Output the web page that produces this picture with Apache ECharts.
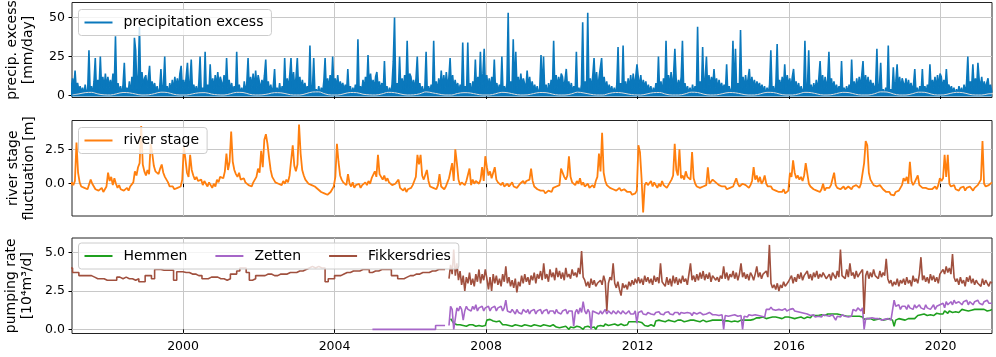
<!DOCTYPE html>
<html>
<head>
<meta charset="utf-8">
<script src="https://cdn.jsdelivr.net/npm/echarts@6.0.0/dist/echarts.min.js"></script>
<style>
  html, body { margin: 0; padding: 0; background: #ffffff; }
  #chart { width: 996px; height: 357px; }
</style>
</head>
<body>
<div id="chart"></div>
<script>
// tick labels
const xTickYears = [2000, 2004, 2008, 2012, 2016, 2020];
const precipTicks = [0, 25, 50];
const riverTicks = [0, 2.5];
const pumpTicks = [0, 2.5, 5];

// precipitation excess [mm/day], one row per year (1997..2021), 30 samples per year
const PRECIP_START = 1997;
const PRECIP_PER_YEAR = 30;
const precipRows = [
  [9,4,11,5,16,3,8,3,6,2,5,0,7,1,4,29,1,6,0,9,24,2,10,4,25,5,12,4,14,5],
  [12,5,10,4,14,5,38,3,8,2,6,0,7,21,1,5,1,9,0,12,3,37,29,4,13,44,5,15,6,11],
  [13,5,11,19,4,9,4,8,2,6,0,5,17,1,7,25,1,6,0,8,2,10,3,12,5,11,4,14,19,5],
  [10,4,12,21,5,9,23,3,7,2,6,0,8,25,1,5,1,28,0,7,2,20,3,11,4,13,5,15,6,12],
  [11,5,13,4,24,5,10,3,8,2,6,0,28,1,7,1,5,0,9,1,8,24,3,12,5,14,4,16,5,13],
  [12,4,10,5,13,23,4,9,2,7,1,6,17,0,5,1,8,1,6,0,24,2,11,4,13,24,5,15,4,12],
  [24,5,12,4,10,4,8,3,6,2,32,0,5,24,1,4,1,6,0,5,1,9,24,3,11,4,13,5,25,5],
  [11,5,13,4,9,5,8,3,7,2,17,1,6,0,5,1,7,0,36,1,6,2,10,4,12,5,26,4,14,5],
  [10,4,12,15,5,9,3,8,2,22,1,6,0,5,1,7,22,50,0,8,2,25,3,11,4,13,5,35,5,14],
  [12,5,10,4,11,25,4,8,2,6,1,5,28,0,6,1,7,1,35,0,9,2,11,4,16,4,13,5,15,6],
  [11,24,5,13,4,10,4,8,2,7,1,34,0,6,1,34,1,8,0,9,2,23,3,12,5,28,4,14,30,5],
  [13,5,11,4,12,5,23,3,8,2,7,1,25,0,6,1,8,53,1,9,2,36,3,28,5,12,4,14,6,11],
  [10,4,16,5,12,4,9,3,7,2,6,0,5,26,1,25,1,7,0,8,2,10,3,35,4,13,5,12,6,14],
  [12,4,10,17,5,9,3,8,2,6,1,28,0,5,1,7,47,0,9,1,53,2,11,4,13,24,5,15,4,12],
  [11,24,5,12,4,9,3,7,2,6,1,5,0,7,31,1,8,1,32,0,9,2,11,4,13,4,14,5,12,20],
  [12,5,13,4,10,5,9,3,7,2,6,0,5,1,8,1,25,0,9,1,11,2,35,4,13,5,15,4,14,30],
  [11,4,10,5,12,35,4,8,2,6,1,5,0,7,1,6,0,44,1,9,2,31,3,11,25,4,13,5,12,6],
  [17,5,11,4,10,4,8,3,7,2,20,0,6,1,5,35,0,30,1,8,2,42,3,12,4,13,5,11,17,4],
  [12,5,10,4,9,5,8,3,7,2,6,0,5,1,7,29,1,6,0,8,33,2,10,4,12,4,20,5,13,6],
  [11,4,12,17,5,9,3,8,2,6,1,5,35,0,6,29,0,7,1,8,2,10,3,11,22,5,13,4,12,5],
  [10,28,5,11,4,9,3,7,2,6,1,22,0,5,1,6,1,7,0,23,2,9,3,11,4,12,5,13,22,4],
  [13,5,12,4,10,5,8,3,7,30,1,6,21,0,4,0,5,1,32,0,4,1,18,3,9,20,4,12,4,11],
  [12,5,11,4,10,4,8,3,7,17,1,5,0,6,1,17,0,6,1,7,2,20,3,10,5,12,4,13,5,14],
  [12,4,10,5,17,4,7,3,6,2,5,0,4,1,6,1,5,0,7,1,8,25,3,9,5,20,4,11,5,21],
  [10,5,12,4,9,4,8,11,3,7,2]
];

// light lower trace inside the precipitation band, 6 samples per year
const precipLowRows = [
  [0.4,1.0,1.8,2.0,1.0,0.4],[0.3,1.1,1.9,1.7,0.9,0.3],[0.4,1.2,2.1,1.9,0.8,0.3],
  [0.3,1.0,1.7,1.8,0.9,0.4],[0.3,1.1,2.0,1.9,0.8,0.3],[0.4,1.0,1.8,1.7,0.9,0.3],
  [0.3,1.2,2.2,2.3,1.0,0.3],[0.3,1.1,1.9,1.8,0.8,0.4],[0.3,1.0,2.0,1.8,0.9,0.3],
  [0.4,1.1,2.3,1.7,0.9,0.3],[0.3,1.3,1.8,1.6,0.8,0.3],[0.3,1.1,2.0,1.7,0.8,0.3],
  [0.4,1.2,1.9,1.8,0.9,0.3],[0.3,1.0,2.1,1.6,0.8,0.3],[0.3,1.3,1.9,1.7,0.9,0.4],
  [0.3,1.0,1.8,1.9,0.8,0.3],[0.3,1.0,2.1,1.9,0.8,0.3],[0.4,1.2,1.9,1.7,0.9,0.3],
  [0.3,1.1,2.0,1.9,0.9,0.3],[0.3,1.0,2.0,1.8,0.9,0.3],[0.4,1.2,2.0,1.8,0.8,0.3],
  [0.3,1.1,2.3,2.2,1.0,0.3],[0.3,1.1,2.1,2.0,0.9,0.3],[0.4,1.3,2.0,1.8,0.8,0.3],
  [0.3,1.0,1.2]
];

// river stage fluctuation [m], 24 samples per year from 1997
const RIVER_START = 1997;
const RIVER_PER_YEAR = 24;
const riverRows = [
  [-0.2,0.1,-0.1,0.2,3.0,0.8,0.1,-0.2,-0.1,-0.3,-0.2,-0.4,-0.5,0.3,0.0,-0.2,-0.4,-0.3,-0.5,-0.4,-0.3,-0.6,-0.4,-0.2],
  [0.8,0.2,0.5,-0.1,0.4,0.0,-0.3,-0.1,-0.4,-0.3,-0.5,-0.4,-0.3,-0.5,-0.2,-0.3,0.1,0.9,0.6,1.2,1.5,4.2,1.4,0.9],
  [0.6,1.0,0.7,2.9,2.2,1.3,0.9,1.0,0.7,1.1,1.4,0.8,0.5,0.3,0.1,-0.2,-0.3,-0.2,-0.4,-0.5,-0.3,-0.4,-0.2,0.3],
  [2.7,1.8,0.8,0.5,2.1,1.0,0.6,0.3,0.5,0.2,0.1,0.3,-0.1,0.2,0.0,-0.2,0.1,-0.1,-0.3,0.0,-0.2,0.3,0.1,0.5],
  [0.6,0.4,0.9,2.2,1.0,1.6,3.8,1.6,1.0,0.7,0.5,0.8,0.3,0.2,0.4,0.1,0.0,-0.1,0.0,-0.2,0.1,0.0,0.5,1.1],
  [0.8,2.4,1.2,3.2,3.6,2.9,1.9,1.0,0.5,0.3,0.1,0.2,0.0,0.1,-0.1,0.2,0.0,0.3,0.1,0.6,0.5,2.8,1.3,0.9],
  [1.4,4.3,2.2,1.0,0.6,0.3,0.2,0.0,0.1,-0.1,0.0,-0.2,-0.3,-0.4,-0.5,-0.6,-0.5,-0.7,-0.6,-0.8,-0.7,-0.6,-0.4,-0.2],
  [0.5,2.9,1.6,0.6,0.3,0.1,0.2,-0.1,0.7,0.0,-0.2,0.1,-0.3,-0.1,-0.2,0.0,-0.3,-0.1,-0.2,0.1,-0.1,0.2,0.0,0.4],
  [0.3,0.9,0.5,2.1,0.7,0.5,0.3,0.6,0.2,0.4,0.1,0.0,-0.1,-0.2,0.0,-0.1,0.3,-0.3,-0.4,-0.5,-0.3,-0.6,-0.4,-0.5],
  [-0.3,-0.1,0.2,0.5,2.1,1.4,2.1,0.6,0.3,0.4,1.0,0.2,-0.2,-0.1,-0.3,-0.2,-0.4,-0.1,0.7,-0.2,-0.3,-0.4,-0.2,0.1],
  [0.4,0.3,1.5,0.2,2.5,1.5,0.3,-0.1,0.1,0.0,-0.1,0.2,0.1,1.1,-0.1,0.3,0.0,0.2,0.1,0.0,0.3,1.2,0.2,2.0],
  [1.2,0.6,0.9,0.4,0.5,1.2,0.3,0.1,0.0,-0.1,0.1,-0.2,-0.1,0.0,-0.2,-0.1,0.1,-0.2,-0.1,-0.3,-0.2,0.0,-0.1,0.2],
  [0.0,0.2,0.1,0.3,1.1,0.2,-0.2,-0.3,-0.4,-0.3,-0.5,-0.6,-0.5,-0.7,-0.6,-0.5,-0.4,-0.6,-0.3,-0.4,-0.2,-0.3,-0.1,1.1],
  [1.2,0.5,0.3,0.6,2.0,0.5,0.1,0.0,-0.1,0.2,0.0,0.4,-0.1,0.1,-0.2,-0.1,0.0,-0.3,-0.2,-0.1,-0.3,0.2,0.5,2.2],
  [0.9,3.7,0.8,0.2,-0.1,-0.2,-0.3,-0.2,-0.4,-0.3,-0.5,-0.4,-0.3,-0.5,-0.6,-0.4,-0.5,-0.6,-0.7,-0.6,-0.8,-0.9,-0.7,-0.5],
  [2.8,2.3,0.4,-2.1,-0.1,0.1,-0.1,0.0,0.2,-0.2,0.1,-0.1,-0.3,0.0,-0.2,0.2,-0.1,0.0,-0.3,-0.1,0.1,0.3,0.6,2.9],
  [1.0,0.6,2.5,0.4,0.6,0.3,0.9,0.5,0.6,0.3,2.3,0.4,0.0,-0.2,-0.1,-0.3,-0.4,-0.2,-0.3,-0.1,1.2,0.0,-0.1,0.3],
  [0.3,0.1,0.2,-0.1,0.0,-0.2,-0.3,-0.2,-0.4,-0.5,-0.3,-0.4,-0.2,-0.1,0.4,0.0,-0.2,-0.1,0.0,0.1,-0.1,-0.2,-0.3,-0.1],
  [0.2,1.2,0.3,0.6,0.1,0.5,0.0,0.2,0.6,0.0,-0.2,-0.3,-0.2,-0.4,-0.3,-0.5,-0.4,-0.6,-0.5,-0.6,-0.4,-0.7,-0.6,-0.5],
  [0.8,0.5,1.7,0.8,0.4,0.6,0.3,0.5,0.2,0.6,1.5,1.5,0.0,-0.2,-0.3,-0.4,-0.3,-0.5,-0.4,-0.6,-0.4,0.0,-0.5,-0.3],
  [-0.2,-0.3,-0.1,-0.2,0.8,-0.1,-0.3,-0.2,-0.4,-0.3,-0.2,-0.4,-0.3,-0.2,-0.3,-0.4,-0.2,-0.3,-0.1,-0.2,-0.3,0.0,-0.1,1.5],
  [3.1,2.8,0.8,0.3,0.1,-0.1,0.0,-0.2,-0.3,-0.1,-0.2,-0.4,-0.5,-0.6,-0.7,-0.6,-0.8,-0.7,-0.85,-0.6,-0.7,-0.5,-0.3,-0.1],
  [0.4,0.2,0.5,0.0,1.6,0.2,-0.1,0.1,0.0,0.6,-0.1,-0.2,-0.3,-0.4,-0.3,-0.2,-0.4,-0.3,-0.4,-0.3,-0.2,-0.4,-0.1,0.4],
  [0.2,0.4,2.1,0.5,2.1,0.0,-0.2,-0.3,-0.1,-0.4,-0.3,-0.5,-0.3,-0.4,-0.2,-0.5,-0.3,-0.4,-0.2,-0.3,-0.5,-0.3,-0.2,-0.1],
  [-0.1,0.3,3.1,0.0,-0.2,-0.3,-0.1,-0.2,0.1]
];

// pumping rate [10^4 m3/d]
// Fikkersdries monthly (stepped) 1997..2006
const FIK_EARLY_START = 1997;
const fikEarlyRows = [
  [4.0,3.7,3.7,3.5,3.5,3.5,3.5,3.4,3.3,3.3,3.3,3.2],
  [3.2,3.2,3.2,3.4,3.3,3.4,3.3,3.3,3.2,3.3,3.1,3.1],
  [3.5,3.5,3.3,3.9,3.9,3.85,3.85,3.85,3.85,3.2,3.75,3.75],
  [3.7,3.7,3.6,3.6,3.5,3.5,3.3,3.3,3.4,3.4,3.4,3.3],
  [3.3,3.2,3.3,3.6,3.6,3.8,4.0,4.0,3.7,3.2,3.3,3.5],
  [3.5,3.5,3.6,3.6,3.5,3.5,3.6,3.6,3.6,3.7,3.7,3.7],
  [3.8,3.8,3.9,4.0,4.1,4.0,4.1,4.0,4.0,3.1,3.3,3.3],
  [3.5,3.5,3.6,3.7,3.7,3.8,3.8,3.8,3.9,3.9,3.9,3.7],
  [3.8,3.8,3.9,3.9,3.9,3.9,3.5,3.5,3.3,3.3,3.4,3.5],
  [3.5,3.6,3.6,3.7,3.7,3.7,3.8,3.8,3.9,3.9,3.9,3.9]
];
// Zetten monthly (stepped) 2005..2006
const ZET_EARLY_START = 2005;
const zetEarlyRows = [
  [0,0,0,0,0,0,0,0,0,0,0,0],
  [0,0,0,0,0,0,0,0,0.25,0.25,0.25,0.25]
];
// 24 samples per year from 2007
const PUMP_START = 2007;
const PUMP_PER_YEAR = 24;
const hemmenRows = [
  [null,0.7,0.8,0.4,0.35,0.3,0.25,0.3,0.2,0.25,0.3,0.2,0.25,0.3,0.2,0.3,0.25,0.2,0.3,0.25,0.3,0.2,0.3,0.25],
  [0.6,0.55,0.65,0.6,0.55,0.6,0.5,0.6,0.55,0.6,0.3,0.25,0.3,0.2,0.25,0.3,0.2,0.25,0.3,0.2,0.25,0.3,0.2,0.25],
  [0.3,0.2,0.25,0.3,0.2,0.25,0.3,0.2,0.25,0.3,0.2,0.25,0.3,0.2,0.25,0.3,0.2,0.25,0.3,0.2,0.15,0.2,0.1,0.15],
  [0.15,0.1,0.2,0.15,0.0,0.15,0.2,0.1,0.15,0.2,0.1,0.15,0.2,0.0,0.15,0.1,0.2,0.15,0.1,0.2,0.15,0.0,0.2,0.15],
  [0.25,0.3,0.2,0.35,0.3,0.25,0.35,0.3,0.25,0.35,0.3,0.25,0.3,0.35,0.3,0.25,0.35,0.3,0.5,0.45,0.5,0.55,0.5,0.45],
  [0.5,0.55,0.45,0.5,0.25,0.3,0.2,0.25,0.3,0.25,0.2,0.55,0.5,0.6,0.5,0.55,0.6,0.5,0.55,0.6,0.5,0.55,0.6,0.5],
  [0.55,0.6,0.5,0.6,0.55,0.5,0.6,0.55,0.5,0.6,0.55,0.6,0.5,0.55,0.6,0.5,0.55,0.6,0.55,0.5,0.6,0.55,0.5,0.6],
  [0.55,0.6,0.5,0.6,0.55,0.6,0.5,0.55,0.6,0.55,0.6,0.5,0.6,0.55,0.6,0.5,0.55,0.6,0.55,0.6,0.5,0.6,0.55,0.6],
  [0.6,0.65,0.7,0.75,0.7,0.75,0.7,0.8,0.75,0.7,0.8,0.75,0.7,0.8,0.75,0.8,0.7,0.75,0.8,0.7,0.75,0.8,0.75,0.8],
  [0.8,0.75,0.8,0.7,0.8,0.75,0.7,0.8,0.75,0.7,0.75,0.8,0.7,0.75,0.9,0.85,0.9,0.95,0.9,1.0,0.95,1.0,0.9,0.95],
  [1.0,0.95,1.0,0.9,1.0,0.95,1.0,0.9,0.95,1.0,0.9,0.95,0.85,0.9,0.85,0.8,0.85,0.9,0.85,0.8,0.85,0.9,0.8,0.65],
  [0.65,0.7,0.6,0.7,0.65,0.6,0.7,0.65,0.6,0.7,0.65,0.6,0.7,0.65,0.6,0.7,0.65,0.6,0.2,0.6,0.65,0.7,0.6,0.65],
  [0.7,0.6,0.65,0.7,0.6,0.7,0.65,0.7,0.8,0.9,0.85,0.95,0.9,1.0,0.95,0.9,1.0,0.95,1.05,0.9,1.0,1.05,0.95,1.0],
  [1.1,1.0,1.2,1.1,1.05,1.2,1.15,1.1,1.2,1.15,1.25,1.1,1.2,1.3,1.2,1.25,1.3,1.2,1.3,1.25,1.2,1.3,1.25,1.3],
  [1.25,1.3,1.2,1.3,1.25,1.2,1.3,1.25,1.3]
];
const zettenRows = [
  [0.25,1.5,1.3,0.0,0.0,1.4,1.2,1.5,1.3,0.6,1.2,1.5,1.3,1.4,1.2,1.5,1.3,1.6,1.2,1.4,1.3,1.5,1.2,1.4],
  [1.3,1.5,1.2,1.4,1.3,1.5,1.2,1.4,1.3,1.5,1.2,1.4,1.9,1.2,1.3,1.1,1.3,1.2,1.0,1.3,1.1,1.2,1.0,1.3],
  [1.2,1.1,1.3,1.0,1.2,1.1,1.3,1.0,1.2,1.1,1.3,1.0,1.2,1.1,1.3,1.0,1.2,1.1,1.2,1.0,1.3,1.1,1.2,1.0],
  [1.2,1.1,1.3,1.0,1.2,1.1,1.2,0.2,1.1,1.3,1.0,1.4,1.1,1.8,1.2,1.0,1.3,1.1,0.0,1.2,1.3,1.1,1.2,1.0],
  [1.2,1.0,1.1,1.3,1.0,1.2,1.1,1.0,1.2,1.1,1.0,1.2,1.1,1.0,1.2,1.1,1.0,1.1,1.2,1.0,1.1,1.0,1.2,0.4],
  [1.1,1.0,1.2,1.0,1.1,0.95,1.1,1.2,1.0,1.1,0.95,1.1,1.0,1.15,1.0,1.1,0.95,1.1,1.0,1.15,1.0,1.1,0.95,1.1],
  [1.0,1.1,0.95,1.1,1.0,1.05,0.95,1.1,1.0,1.05,0.9,1.1,1.0,1.0,0.95,1.1,1.0,0.95,1.05,1.0,0.95,1.1,1.0,0.95],
  [1.0,0.95,1.05,0.9,1.0,0.95,0.0,0.9,1.0,0.85,0.95,0.9,0.85,0.95,0.9,0.85,0.95,0.9,0.0,0.85,0.9,0.8,0.95,0.85],
  [0.9,0.8,0.95,0.85,0.9,0.8,0.85,0.9,0.8,1.3,1.4,1.3,1.45,1.3,1.4,1.25,1.35,1.3,1.4,1.25,1.3,1.35,1.2,1.3],
  [1.3,1.2,1.35,1.2,1.25,1.15,1.2,1.1,1.2,1.05,1.1,1.0,0.95,0.9,0.85,0.95,0.8,0.9,0.85,0.9,0.8,0.95,0.85,0.9],
  [0.9,0.85,0.8,0.95,0.9,0.6,0.85,0.9,0.8,0.95,0.9,0.85,0.9,0.8,0.9,0.85,1.3,1.4,1.2,1.4,1.3,1.2,1.4,0.0],
  [0.7,0.65,0.7,0.6,0.75,0.65,0.7,0.6,0.7,0.65,0.6,0.7,0.65,0.6,0.7,0.65,0.6,0.7,1.9,1.5,1.4,1.6,1.3,1.5],
  [1.4,1.5,1.3,1.6,1.4,1.5,1.3,1.6,1.4,1.5,1.6,1.4,1.5,1.3,1.6,1.4,1.5,1.3,1.4,1.6,1.3,1.5,1.4,1.6],
  [1.5,1.7,1.4,1.8,1.6,1.7,1.8,1.6,1.9,1.7,1.6,1.8,1.7,1.6,1.8,1.7,1.9,1.6,1.8,1.7,1.6,1.8,1.7,1.9],
  [1.7,1.8,1.6,1.8,1.7,1.9,1.7,1.8,1.7]
];
const fikRows = [
  [3.3,4.2,3.6,5.2,3.5,4.3,3.2,3.8,2.9,3.5,2.5,3.4,3.0,3.7,2.9,3.3,2.8,3.6,3.1,3.9,3.0,3.6,3.2,3.9],
  [3.3,2.6,3.4,2.5,3.6,3.0,3.5,2.9,3.3,2.8,3.6,3.1,4.1,3.0,3.4,2.8,3.2,2.7,3.3,2.4,3.1,2.8,3.5,3.0],
  [3.6,3.1,3.4,2.9,3.5,3.2,3.7,3.0,3.6,3.3,3.8,3.2,4.3,3.3,3.6,3.1,3.9,3.4,3.7,3.2,4.0,3.4,3.8,3.3],
  [3.7,3.2,4.0,3.4,3.6,3.3,3.9,3.5,3.7,3.4,4.0,3.6,5.1,3.4,3.2,2.8,3.1,2.7,3.3,2.9,3.2,2.8,3.0,3.1],
  [3.2,2.9,3.5,3.1,1.2,3.0,3.4,3.2,4.3,3.0,2.7,3.1,2.6,2.2,3.0,2.7,2.9,2.6,3.1,2.8,3.2,2.9,3.3,3.0],
  [3.4,3.0,3.3,2.9,3.5,3.1,3.4,3.0,3.3,2.9,3.5,3.1,3.4,3.0,4.3,3.1,3.2,2.8,3.4,2.9,3.3,2.8,3.5,3.0],
  [3.4,2.9,3.3,3.0,3.5,3.1,3.3,2.9,3.6,4.3,3.2,3.5,3.1,3.6,3.2,3.7,3.3,3.8,3.2,3.6,3.3,3.7,3.1,3.5],
  [3.6,3.2,3.4,3.1,3.5,3.3,4.1,3.3,3.7,3.2,3.6,3.4,3.8,3.3,3.7,3.2,3.6,4.3,3.4,3.7,3.3,3.6,3.2,3.7],
  [3.5,3.2,3.6,4.1,3.4,3.7,3.3,3.6,3.5,3.8,3.4,5.5,3.0,2.7,2.9,2.6,3.0,2.5,2.9,2.7,3.1,2.8,2.9,3.1],
  [3.2,3.5,3.0,3.4,3.1,3.6,3.3,3.7,3.2,3.5,3.4,3.8,3.3,3.6,3.2,3.7,3.4,3.8,3.3,3.6,3.4,3.7,3.5,3.3],
  [3.4,3.6,3.2,3.7,3.5,3.3,3.8,3.4,5.2,3.5,3.6,3.3,3.9,3.4,4.3,3.5,3.7,3.3,3.8,3.4,3.6,3.5,3.9,1.0],
  [3.5,3.8,3.3,3.7,3.4,3.9,3.5,3.6,3.3,3.8,3.4,3.7,3.5,4.6,3.3,3.0,3.2,2.8,3.1,2.9,3.3,2.8,3.2,3.0],
  [3.3,2.9,3.4,3.0,3.2,2.8,3.5,3.1,3.3,3.0,3.6,4.7,3.2,3.5,3.1,3.4,3.0,3.6,3.2,3.5,3.1,3.4,3.0,3.6],
  [3.5,3.9,3.6,4.1,3.7,4.0,3.6,4.9,3.4,3.1,3.3,2.9,3.4,3.0,3.2,2.8,3.4,3.1,3.5,3.0,3.3,2.9,3.2,3.0],
  [3.1,2.8,3.3,2.9,3.2,3.0,2.8,3.1,3.0]
];

const FONT = 'DejaVu Sans';
// x axis in decimal years
const X_MIN = 1997.069;
const X_MAX = 2021.355;

// turn yearly rows into [decimal year, value] points
// offset 0.5 = sample in the middle of its slot, 0 = at the start (for stepped monthly data)
function rowsToPoints(rows, firstYear, perYear, offset) {
  const off = offset === undefined ? 0.5 : offset;
  const pts = [];
  rows.forEach((row, k) => {
    row.forEach((v, j) => pts.push([firstYear + k + (j + off) / perYear, v]));
  });
  return pts;
}

const grids = [
  { left: 72, top: 2.5, width: 920, height: 95 },
  { left: 72, top: 120.5, width: 920, height: 95.5 },
  { left: 72, top: 238, width: 920, height: 95.5 }
].map(g => Object.assign(g, {
  show: true, borderColor: '#222', borderWidth: 1, backgroundColor: 'transparent',
  containLabel: false, outerBoundsMode: 'none'
}));

function xAxisFor(idx) {
  return {
    type: 'value', gridIndex: idx, min: X_MIN, max: X_MAX,
    axisLine: { show: false },
    axisTick: { show: true, length: 3.5, customValues: xTickYears, lineStyle: { color: '#000', width: 1 } },
    axisLabel: {
      show: idx === 2, customValues: xTickYears, margin: 7, fontSize: 12.5, color: '#000', fontFamily: FONT,
      formatter: v => String(Math.round(v))
    },
    splitLine: { show: true, lineStyle: { color: '#c8c8c8', width: 1 } }
  };
}

function yAxisFor(idx, name, min, max, ticks, digits, gap) {
  return {
    type: 'value', gridIndex: idx, min: min, max: max,
    name: name, nameLocation: 'middle', nameRotate: 90, nameGap: gap, nameMoveOverlap: false,
    nameTextStyle: { fontSize: 14, lineHeight: 16, color: '#000', fontFamily: FONT },
    axisLine: { show: false },
    axisTick: { show: true, length: 3.5, customValues: ticks, lineStyle: { color: '#000', width: 1 } },
    axisLabel: {
      customValues: ticks, margin: 7, fontSize: 12.5, color: '#000', fontFamily: FONT,
      formatter: v => v.toFixed(digits)
    },
    splitLine: { show: true, lineStyle: { color: '#c8c8c8', width: 1 } }
  };
}

function legendAt(top, names) {
  return {
    left: 78.5, top: top, orient: 'horizontal',
    icon: 'rect', itemWidth: 28, itemHeight: 2, itemGap: 28,
    padding: [5, 8, 5, 6],
    backgroundColor: 'rgba(255,255,255,0.8)', borderColor: '#cccccc', borderWidth: 1, borderRadius: 3,
    textStyle: { fontSize: 14, lineHeight: 16, color: '#000', fontFamily: FONT, padding: [0, 0, 0, 6] },
    data: names
  };
}

function lineSeries(name, xi, pts, color, width, extra) {
  return Object.assign({
    name: name, type: 'line', xAxisIndex: xi, yAxisIndex: xi, data: pts,
    symbol: 'none', showSymbol: false,
    lineStyle: { color: color, width: width }, itemStyle: { color: color },
    emphasis: { disabled: true }
  }, extra || {});
}

const colors = {
  precip: '#0a78bc',
  river: '#ff7f0e',
  hemmen: '#1fa01f',
  zetten: '#a666c8',
  fik: '#a0503e'
};

const chart = echarts.init(document.getElementById('chart'), null, { renderer: 'canvas' });
chart.setOption({
  animation: false,
  backgroundColor: '#ffffff',
  textStyle: { fontFamily: FONT },
  grid: grids,
  xAxis: [xAxisFor(0), xAxisFor(1), xAxisFor(2)],
  yAxis: [
    yAxisFor(0, 'precip. excess\n[mm/day]', -1.3, 59.6, precipTicks, 0, 36),
    yAxisFor(1, 'river stage\nfluctuation [m]', -2.35, 4.6, riverTicks, 1, 35),
    yAxisFor(2, 'pumping rate\n[10\u2074m\u00b3/d]', -0.27, 5.95, pumpTicks, 1, 37)
  ],
  legend: [
    legendAt(9.5, ['precipitation excess']),
    legendAt(127.5, ['river stage']),
    legendAt(243, ['Hemmen', 'Zetten', 'Fikkersdries'])
  ],
  series: [
    lineSeries('precipitation excess', 0, rowsToPoints(precipRows, PRECIP_START, PRECIP_PER_YEAR), colors.precip, 1.6,
      { areaStyle: { color: colors.precip, opacity: 1, origin: -0.7 } }),
    lineSeries('precip-low', 0, rowsToPoints(precipLowRows, PRECIP_START, 6), '#dcdcdc', 1, { smooth: 0.4 }),
    lineSeries('river stage', 1, rowsToPoints(riverRows, RIVER_START, RIVER_PER_YEAR), colors.river, 1.8),
    lineSeries('Hemmen', 2, rowsToPoints(hemmenRows, PUMP_START, PUMP_PER_YEAR), colors.hemmen, 1.6),
    lineSeries('Zetten', 2, rowsToPoints(zetEarlyRows, ZET_EARLY_START, 12, 0), colors.zetten, 1.6, { step: 'end' }),
    lineSeries('Zetten', 2, rowsToPoints(zettenRows, PUMP_START, PUMP_PER_YEAR), colors.zetten, 1.6),
    lineSeries('Fikkersdries', 2, rowsToPoints(fikEarlyRows, FIK_EARLY_START, 12, 0), colors.fik, 1.6, { step: 'end' }),
    lineSeries('Fikkersdries', 2, rowsToPoints(fikRows, PUMP_START, PUMP_PER_YEAR), colors.fik, 1.6)
  ]
});
</script>
</body>
</html>
